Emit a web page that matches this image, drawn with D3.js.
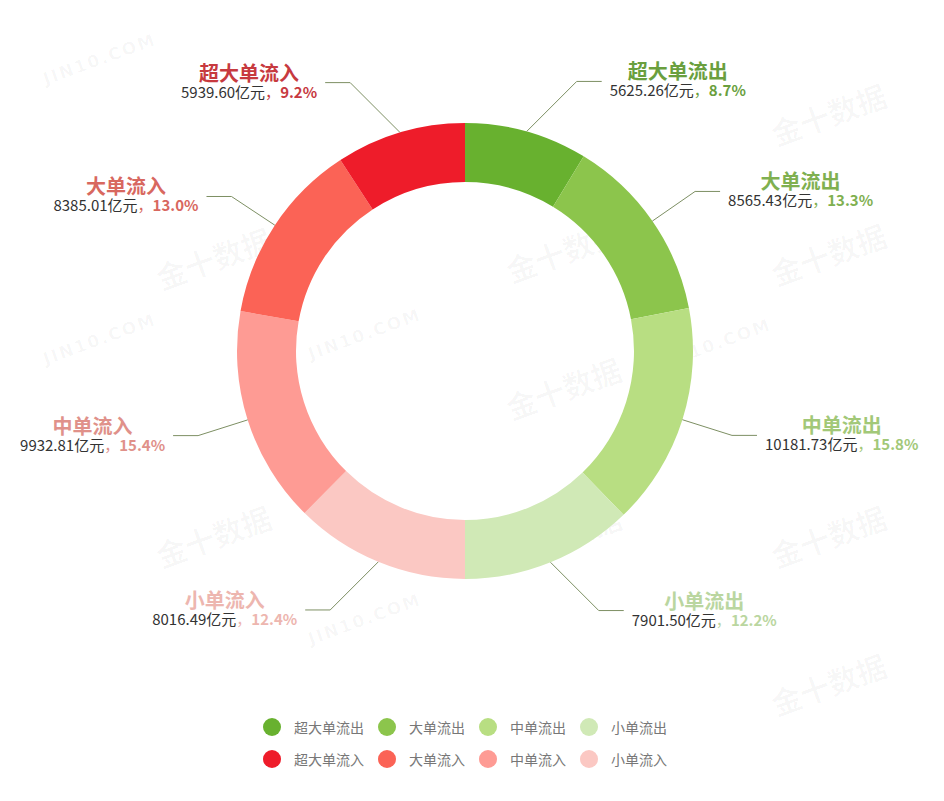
<!DOCTYPE html>
<html>
<head>
<meta charset="utf-8">
<script src="https://cdn.jsdelivr.net/npm/d3@7/dist/d3.min.js"></script>
<style>
  html, body { margin: 0; padding: 0; background: #fff; }
  svg { display: block; font-family: "Noto Sans CJK SC", "Noto Sans", sans-serif; }
</style>
</head>
<body>
<svg id="chart" width="944" height="801"></svg>
<script>
// ---- data ----
const outCategories = ["超大单流出", "大单流出", "中单流出", "小单流出"];
const outValues = [5625.26, 8565.43, 10181.73, 7901.50];
const inCategories = ["超大单流入", "大单流入", "中单流入", "小单流入"];
const inValues = [5939.60, 8385.01, 9932.81, 8016.49];
const unit = "亿元";

// ---- styles ----
const outColors = ["#68b12f", "#8cc54c", "#b8de82", "#d0e9b6"];
const inColors = ["#ee1c2a", "#fb6356", "#fe9b94", "#fbc8c3"];
const outLabelColors = ["#6a9f3e", "#7fb050", "#a2c878", "#bad6a0"];
const inLabelColors = ["#c73a3f", "#d8685f", "#e0918a", "#edb6af"];

const W = 944, H = 801;
const cx = 465, cy = 351, rOuter = 228, rInner = 169;
const svg = d3.select("#chart");

const wm = svg.append("g").attr("class", "watermark");

// ---- build table ----
const outItems = outCategories.map((c, i) => ({ name: c, value: outValues[i], color: outColors[i], lcolor: outLabelColors[i] }));
const inItems = inCategories.map((c, i) => ({ name: c, value: inValues[i], color: inColors[i], lcolor: inLabelColors[i] }));
const pieItems = outItems.concat(inItems.slice().reverse());
const total = d3.sum(pieItems, d => d.value);
const pct = d3.format(".1f");
const num = d3.format(".2f");

const pie = d3.pie().sort(null).value(d => d.value);
const arcs = pie(pieItems);
const arc = d3.arc().innerRadius(rInner).outerRadius(rOuter);

const g = svg.append("g").attr("transform", `translate(${cx},${cy})`);
g.selectAll("path.slice").data(arcs).join("path")
  .attr("class", "slice")
  .attr("d", arc)
  .attr("fill", d => d.data.color);

// ---- labels ----
const rElbow = rOuter + 52;
const hLen = 25, gap = 8;
const labelG = svg.append("g");
const labelBoxes = [];
arcs.forEach(a => {
  const mid = (a.startAngle + a.endAngle) / 2;
  const s = Math.sin(mid), c = Math.cos(mid);
  const dir = s >= 0 ? 1 : -1;
  const x0 = cx + rOuter * s, y0 = cy - rOuter * c;
  const y1 = cy - rElbow * c;
  let x1 = cx + rElbow * s;
  const dy = Math.abs(y1 - y0);
  if (Math.abs(x1 - x0) < dy) x1 = x0 + dir * dy;
  const x2 = x1 + dir * hLen;
  labelG.append("polyline")
    .attr("points", `${x0},${y0} ${x1},${y1} ${x2},${y1}`)
    .attr("fill", "none").attr("stroke", "#7d8f63").attr("stroke-width", 1);

  const lg = labelG.append("g");
  const nameT = lg.append("text")
    .attr("y", y1 - 2)
    .attr("text-anchor", "middle")
    .attr("font-size", 20).attr("font-weight", "bold")
    .attr("fill", a.data.lcolor)
    .text(a.data.name);
  const valT = lg.append("text")
    .attr("y", y1 + 15)
    .attr("text-anchor", "middle")
    .attr("font-size", 15);
  valT.append("tspan").attr("fill", "#333").text(num(a.data.value) + unit);
  valT.append("tspan").attr("fill", a.data.lcolor).text("，");
  valT.append("tspan").attr("fill", a.data.lcolor).attr("font-weight", "bold").text(pct(a.data.value / total * 100) + "%");
  const w = Math.max(nameT.node().getComputedTextLength(), valT.node().getComputedTextLength());
  const tcx = dir > 0 ? x2 + gap + w / 2 : x2 - gap - w / 2;
  nameT.attr("x", tcx);
  valT.attr("x", tcx);
  labelBoxes.push(lg.node().getBoundingClientRect());
});

// ---- legend ----
const legendRows = [outItems, inItems];
const legendG = svg.append("g");
const rowY = [727, 759];
const circR = 9, textOff = 22, itemGap = 23;
legendRows.forEach((row, ri) => {
  const rg = legendG.append("g");
  let x = 0;
  row.forEach(d => {
    rg.append("circle").attr("cx", x + circR).attr("cy", 0).attr("r", circR).attr("fill", d.color);
    const t = rg.append("text").attr("x", x + circR + textOff).attr("y", 0)
      .attr("dominant-baseline", "central")
      .attr("font-size", 14).attr("fill", "#777").text(d.name);
    x = x + circR + textOff + t.node().getComputedTextLength() + itemGap - circR;
  });
  const totalW = x - itemGap + circR;
  rg.attr("transform", `translate(${cx - totalW / 2},${rowY[ri]})`);
});
labelBoxes.push(legendG.node().getBoundingClientRect());

// ---- watermarks (faint, skipped where they would collide with labels) ----
const jinPos = [[100,60],[365,55],[715,55],[100,340],[365,335],[715,345],[100,625],[365,620],[715,625]];
const jsPos = [[215,120],[565,112],[830,118],[215,262],[565,255],[830,258],[215,398],[565,392],[830,396],[215,540],[565,540],[830,540],[215,688],[565,688],[830,688]];
function overlaps(node) {
  const b = node.getBoundingClientRect();
  if (b.left < 0 || b.right > W || b.top < 0 || b.bottom > H) return true;
  return labelBoxes.some(l => !(b.right < l.left || b.left > l.right || b.bottom < l.top || b.top > l.bottom));
}
jinPos.forEach(p => {
  const t = wm.append("text").attr("transform", `translate(${p[0]},${p[1]}) rotate(-20)`)
    .attr("text-anchor", "middle").attr("dominant-baseline", "middle")
    .attr("font-family", "DejaVu Sans, sans-serif").attr("font-weight", "bold")
    .attr("font-size", 17).attr("letter-spacing", 2).attr("fill", "#000").attr("fill-opacity", 0.035)
    .text("JIN10.COM");
  if (overlaps(t.node())) t.remove();
});
jsPos.forEach(p => {
  const t = wm.append("text").attr("transform", `translate(${p[0]},${p[1]}) rotate(-20)`)
    .attr("text-anchor", "middle").attr("dominant-baseline", "middle")
    .attr("font-size", 30).attr("font-weight", "bold").attr("fill", "#000").attr("fill-opacity", 0.032)
    .text("金十数据");
  if (overlaps(t.node())) t.remove();
});
</script>
</body>
</html>
